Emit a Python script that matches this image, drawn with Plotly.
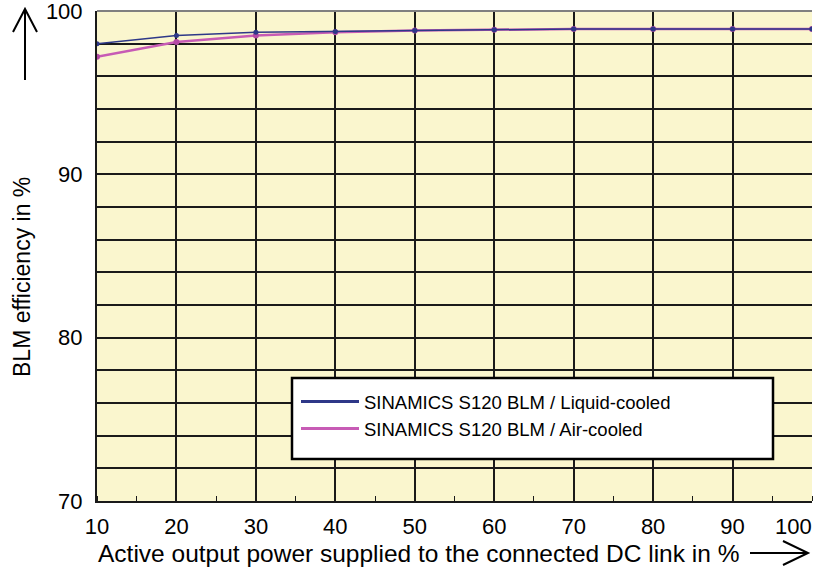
import plotly.graph_objects as go

power = [10, 20, 30, 40, 50, 60, 70, 80, 90, 100]
liquid_cooled = [98.0, 98.5, 98.7, 98.75, 98.8, 98.85, 98.9, 98.9, 98.9, 98.9]
air_cooled = [97.2, 98.1, 98.5, 98.7, 98.8, 98.85, 98.9, 98.9, 98.9, 98.9]
y_ticks = [70, 80, 90, 100]
x_ticks = [10, 20, 30, 40, 50, 60, 70, 80, 90, 100]
names = ["SINAMICS S120 BLM / Liquid-cooled", "SINAMICS S120 BLM / Air-cooled"]
colors = ["#2E3888", "#C75BB5"]

W, H = 815, 570
L, R, T, B = 97, 3, 11, 69
pw, ph = W - L - R, H - T - B

def px(x):
    return (x - L) / pw

def py(y):
    return (H - B - y) / ph

FONT = "Liberation Sans, Arial, sans-serif"

# the last x label sits at the page edge: drawn as a right-anchored label instead
x_ticktext = [str(v) for v in x_ticks[:-1]] + [""]

fig = go.Figure()
fig.add_trace(go.Scatter(x=power, y=air_cooled, name=names[1], mode="lines+markers",
                         line=dict(color=colors[1], width=2.5), showlegend=False,
                         marker=dict(size=6, color="#B44AA5")))
fig.add_trace(go.Scatter(x=power, y=liquid_cooled, name=names[0], mode="lines+markers",
                         line=dict(color=colors[0], width=1.5), showlegend=False,
                         marker=dict(size=5, color=colors[0])))
# legend entries (line only)
for nm, c in zip(names, colors):
    fig.add_trace(go.Scatter(x=[None], y=[None], name=nm, mode="lines",
                             line=dict(color=c, width=3)))

fig.update_layout(
    width=W, height=H,
    margin=dict(l=L, r=R, t=T, b=B, autoexpand=False),
    paper_bgcolor="white",
    plot_bgcolor="#FAF6CE",
    font=dict(family=FONT, color="black"),
    showlegend=True,
    legend=dict(x=px(296), y=py(383), xanchor="left", yanchor="top",
                orientation="h",
                bgcolor="rgba(0,0,0,0)", borderwidth=0,
                font=dict(size=18.5, family=FONT),
                entrywidth=400, entrywidthmode="pixels", itemwidth=58),
    xaxis=dict(range=[10, 100], tickvals=x_ticks, ticktext=x_ticktext,
               showgrid=True, gridcolor="#1a1a1a", gridwidth=1.6, automargin=False,
               showline=True, linecolor="#1a1a1a", linewidth=2, ticklabeloverflow="allow",
               ticks="", tickfont=dict(size=22), zeroline=False, ticklabelstandoff=5,
               minor=dict(dtick=5, tick0=10, ticks="inside", ticklen=5, tickcolor="#1a1a1a", showgrid=False)),
    yaxis=dict(range=[70, 100], tickvals=y_ticks, ticktext=[str(v) for v in y_ticks],
               showgrid=True, gridcolor="#1a1a1a", gridwidth=1.6, automargin=False,
               showline=True, linecolor="#1a1a1a", linewidth=2, ticklabeloverflow="allow",
               ticks="", tickfont=dict(size=22), zeroline=False, ticklabelstandoff=8,
               minor=dict(dtick=2, tick0=70, showgrid=True, gridcolor="#1a1a1a", gridwidth=1.6)),
)

fig.add_annotation(text=str(x_ticks[-1]), x=x_ticks[-1], xref="x", yref="paper",
                   y=py(526), xanchor="right", yanchor="middle", xshift=2,
                   showarrow=False, font=dict(size=22, family=FONT))

# top border
fig.add_shape(type="line", xref="paper", yref="paper", x0=0, x1=1, y0=1, y1=1,
              line=dict(color="#808080", width=2))

# legend box
fig.add_shape(type="rect", xref="paper", yref="paper", layer="above",
              x0=px(292), x1=px(773), y0=py(459), y1=py(378),
              fillcolor="white", line=dict(color="black", width=2.5))

# axis titles
fig.add_annotation(text="BLM efficiency in %", xref="paper", yref="paper",
                   x=px(22), y=py(277), textangle=-90, showarrow=False,
                   font=dict(size=23, family=FONT), xanchor="center", yanchor="middle")
fig.add_annotation(text="Active output power supplied to the connected DC link in %",
                   xref="paper", yref="paper", x=px(418), y=py(553), showarrow=False,
                   font=dict(size=24.5, family=FONT), xanchor="center", yanchor="middle")

# arrows
fig.add_shape(type="path", xref="paper", yref="paper",
              path=f"M {px(25)} {py(80)} L {px(25)} {py(9)} M {px(13)} {py(32)} L {px(25)} {py(9)} L {px(37)} {py(32)}",
              line=dict(color="black", width=2))
fig.add_shape(type="path", xref="paper", yref="paper",
              path=f"M {px(750)} {py(553)} L {px(808)} {py(553)} M {px(783)} {py(541)} L {px(808)} {py(553)} L {px(783)} {py(565)}",
              line=dict(color="black", width=2))

fig.write_html("out.html", config={"displayModeBar": False},
               post_script="document.body.style.margin='0';document.body.style.overflow='hidden';")
